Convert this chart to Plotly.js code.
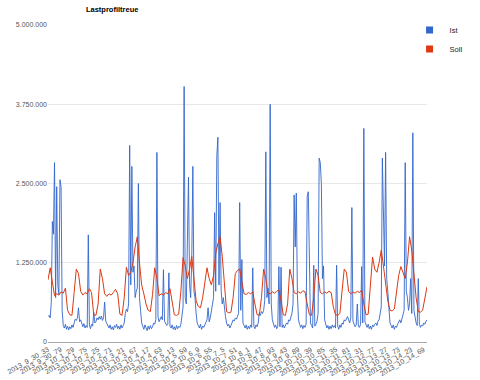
<!DOCTYPE html>
<html>
<head>
<meta charset="utf-8">
<script src="https://cdn.plot.ly/plotly-3.0.1.min.js"></script>
<style>
html,body{margin:0;padding:0;background:#fff;}
#chart{width:480px;height:380px;}
</style>
</head>
<body>
<div id="chart"></div>
<script>
// Values in thousands (1 unit = 1.000)
// Ist: hourly readings (x in quarter-hour index, step 4)
const istValues = [
  400, 420, 380, 620, 1900, 1700, 2830, 700, 2450, 900, 750, 2560,
  2450, 500, 260, 220, 280, 200, 250, 190, 240, 210, 270, 230,
  300, 360, 340, 380, 540, 320, 350, 280, 240, 290, 220, 260,
  230, 1690, 270, 210, 280, 250, 470, 300, 320, 380, 350, 400,
  360, 410, 340, 380, 630, 330, 290, 250, 220, 270, 200, 240,
  190, 260, 230, 280, 210, 250, 200, 270, 220, 260, 300, 450,
  520, 480, 600, 3100, 900, 2770, 1100, 1200, 700, 800, 850, 2500,
  700, 500, 300, 250, 200, 270, 220, 180, 250, 200, 260, 210,
  240, 300, 280, 350, 2990, 400, 320, 380, 400, 350, 1140, 330,
  300, 260, 280, 1090, 250, 220, 270, 200, 240, 190, 260, 210,
  250, 230, 280, 400, 550, 4030, 700, 600, 1450, 2600, 900, 700,
  1300, 2770, 800, 700, 450, 300, 260, 220, 280, 200, 250, 230,
  270, 300, 350, 540, 320, 380, 500, 600, 700, 2040, 800, 2930,
  3230, 900, 2200, 800, 600, 700, 500, 400, 300, 250, 280, 220,
  260, 300, 350, 330, 380, 360, 400, 450, 2200, 500, 1300, 300,
  260, 220, 270, 200, 250, 210, 270, 230, 1170, 250, 210, 270,
  240, 300, 460, 420, 480, 450, 500, 650, 3000, 700, 850, 600,
  3750, 600, 350, 280, 230, 270, 210, 250, 1190, 240, 1180, 230,
  270, 220, 260, 300, 280, 350, 330, 400, 450, 600, 2320, 1500,
  2350, 750, 350, 280, 230, 270, 210, 260, 230, 280, 2300, 2370,
  800, 300, 260, 220, 1210, 250, 280, 330, 450, 2900, 2830, 2500,
  1000, 1200, 350, 270, 220, 260, 200, 250, 210, 270, 230, 260,
  220, 1210, 250, 200, 270, 230, 300, 280, 350, 330, 380, 400,
  350, 300, 380, 2120, 330, 280, 240, 270, 600, 250, 230, 280,
  1190, 300, 3370, 320, 270, 230, 280, 210, 250, 200, 270, 240,
  280, 300, 260, 330, 350, 450, 550, 2900, 2100, 1200, 2990, 1000,
  800, 500, 300, 260, 220, 270, 200, 250, 230, 280, 320, 350,
  300, 380, 420, 500, 2830, 800, 700, 500, 600, 1000, 450, 3300,
  500, 350, 300, 260, 1000, 280, 230, 270, 250, 300, 280, 320,
  350
];

// Soll: two-hourly readings (x in quarter-hour index, step 8)
const sollValues = [
  980, 1170, 950, 730, 760, 740, 790, 770, 850, 500, 430, 420,
  780, 1150, 1080, 800, 740, 780, 760, 840, 780, 430, 420, 600,
  1150, 1000, 760, 720, 760, 740, 780, 830, 760, 440, 420, 700,
  1180, 1050, 1100, 1250, 1500, 1660, 1250, 900, 760, 600, 500, 480,
  750, 1170, 1000, 730, 760, 740, 780, 760, 840, 600, 430, 420,
  440, 800, 1330, 1200, 1000, 1150, 1350, 1000, 650, 560, 540, 700,
  950, 1170, 1000, 900, 1050, 1400, 1550, 1660, 1350, 900, 480, 460,
  470, 700, 1080, 1130, 1150, 950, 760, 750, 780, 760, 790, 600,
  430, 420, 700, 1150, 1000, 770, 760, 790, 770, 800, 820, 650,
  430, 420, 600, 1150, 1000, 780, 760, 790, 770, 810, 790, 600,
  430, 420, 700, 1150, 1050, 780, 760, 790, 770, 800, 780, 550,
  430, 420, 450, 800, 1150, 1100, 800, 760, 790, 770, 800, 780,
  820, 600, 430, 440, 900, 1340, 1150, 1100, 1250, 1450, 1200, 900,
  650, 500, 490, 520, 750, 1050, 1190, 1100, 1000, 1250, 1660, 1450,
  1100, 700, 480, 470, 500, 700, 870
];

// x-axis tick labels (quarter-hour index positions)
const tickPositions = [0, 46, 92, 138, 184, 230, 276, 322, 368, 414, 460, 506, 552, 598, 644, 690, 736, 782, 828, 874, 920, 966, 1012, 1058, 1104, 1150, 1196, 1242, 1288, 1334, 1380];
const tickLabels = [
  "2013_9_30_33", "2013_9_30_79", "2013_10_1_29", "2013_10_1_75", "2013_10_2_25",
  "2013_10_2_71", "2013_10_3_21", "2013_10_3_67", "2013_10_4_17", "2013_10_4_63",
  "2013_10_5_13", "2013_10_5_59", "2013_10_6_9", "2013_10_6_55", "2013_10_7_5",
  "2013_10_7_51", "2013_10_8_1", "2013_10_8_47", "2013_10_8_93", "2013_10_9_43",
  "2013_10_9_89", "2013_10_10_39", "2013_10_10_85", "2013_10_11_35", "2013_10_11_81",
  "2013_10_12_31", "2013_10_12_77", "2013_10_13_27", "2013_10_13_73", "2013_10_14_23",
  "2013_10_14_69"
];

const yTickVals = [0, 1250, 2500, 3750, 5000];
const yTickText = ["0", "1.250.000", "2.500.000", "3.750.000", "5.000.000"];

const seriesNames = ["Ist", "Soll"];
const seriesColors = ["#3366cc", "#dc3912"];

const istX = istValues.map((_, i) => i * 4);
const sollX = sollValues.map((_, i) => i * 8);

const traces = [
  {x: istX, y: istValues, type: 'scatter', mode: 'lines', name: seriesNames[0],
   line: {color: seriesColors[0], width: 1}, opacity: 0.9, showlegend: false, hoverinfo: 'skip'},
  {x: sollX, y: sollValues, type: 'scatter', mode: 'lines', name: seriesNames[1],
   line: {color: seriesColors[1], width: 1}, showlegend: false, hoverinfo: 'skip'},
  {x: [null], y: [null], type: 'scatter', mode: 'markers', name: seriesNames[0],
   marker: {symbol: 'square', size: 7, color: seriesColors[0]}, showlegend: true},
  {x: [null], y: [null], type: 'scatter', mode: 'markers', name: seriesNames[1],
   marker: {symbol: 'square', size: 7, color: seriesColors[1]}, showlegend: true}
];

const layout = {
  width: 480, height: 380,
  margin: {l: 48, r: 40, t: 25, b: 38, pad: 0},
  paper_bgcolor: '#ffffff', plot_bgcolor: '#ffffff',
  font: {family: 'Arial, "Liberation Sans", sans-serif', size: 7, color: '#444'},
  title: {text: 'Lastprofiltreue', x: 0.1, xanchor: 'left', xref: 'paper', y: 0.975, yanchor: 'middle',
          font: {size: 7.5, color: '#000', weight: 'bold'}},
  xaxis: {
    range: [0, 1392], showgrid: false, zeroline: false,
    tickmode: 'array', tickvals: tickPositions, ticktext: tickLabels,
    tickangle: -30, tickfont: {size: 7, color: '#555'},
    showline: true, linecolor: '#aaa', linewidth: 1, ticks: ''
  },
  yaxis: {
    range: [0, 5000], tickmode: 'array', tickvals: yTickVals, ticktext: yTickText,
    showgrid: true, gridcolor: '#e8e8e8', gridwidth: 1, zeroline: false,
    tickfont: {size: 7, color: '#555'}, ticks: '', showline: false
  },
  legend: {x: 0.954, y: 1.03, xanchor: 'left', yanchor: 'top', font: {size: 7.5, color: '#222'},
           bgcolor: 'rgba(0,0,0,0)', tracegroupgap: 0}
};

Plotly.newPlot('chart', traces, layout, {displayModeBar: false, staticPlot: true});
</script>
</body>
</html>
